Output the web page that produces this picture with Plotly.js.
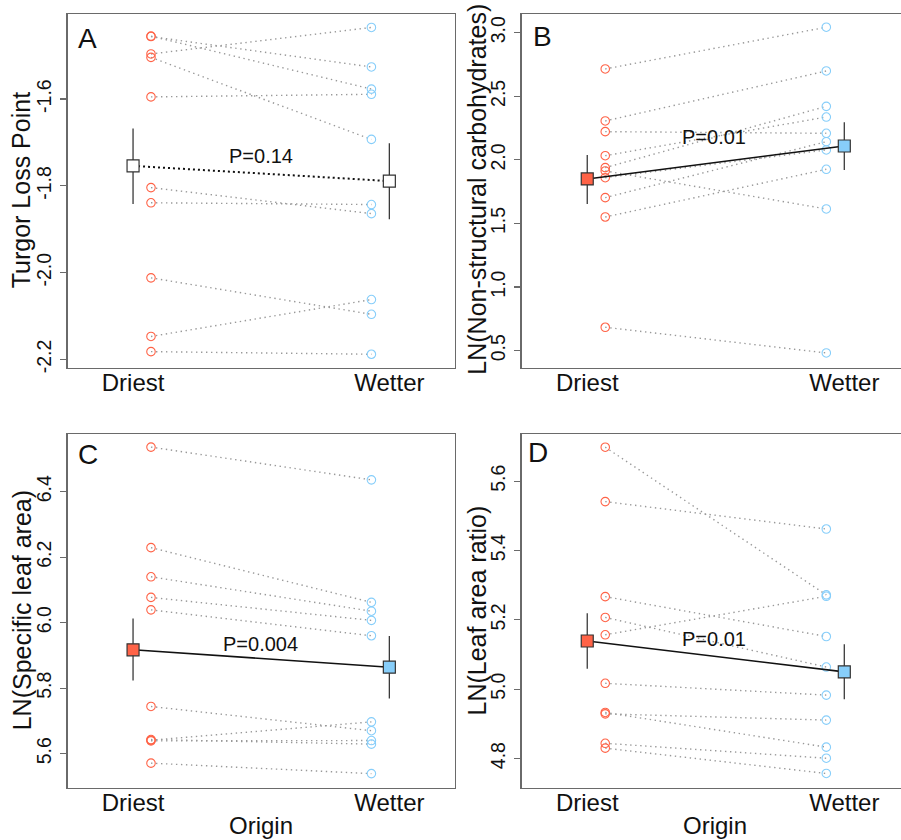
<!DOCTYPE html>
<html><head><meta charset="utf-8">
<script src="https://cdn.plot.ly/plotly-3.0.1.min.js"></script>
<style>html,body{margin:0;padding:0;background:#fff}#chart{width:901px;height:840px}</style>
</head><body><div id="chart"></div>
<script>
// ---------- data ----------
const categories = ['Driest', 'Wetter'];

// Panel A: Turgor Loss Point (driest[i] is paired with wetter[i])
const tlpDriest = [-1.456, -1.455, -1.496, -1.504, -1.595, -1.804, -1.839, -2.012, -2.147, -2.182];
const tlpWetter = [-1.526, -1.577, -1.435, -1.693, -1.589, -1.864, -1.843, -2.096, -2.062, -2.188];
const tlpMeans = [-1.754, -1.789];
const tlpUpper = [-1.668, -1.702];
const tlpLower = [-1.842, -1.877];
const tlpTicks = [-2.2, -2.0, -1.8, -1.6];
const tlpTickText = ['-2.2', '-2.0', '-1.8', '-1.6'];

// Panel B: LN(Non-structural carbohydrates)
const nscDriest = [2.715, 2.306, 2.222, 2.033, 1.939, 1.913, 1.860, 1.703, 1.551, 0.684];
const nscWetter = [3.043, 2.699, 2.209, 2.337, 2.421, 1.614, 2.078, 2.143, 1.926, 0.482];
const nscMeans = [1.850, 2.109];
const nscUpper = [2.039, 2.296];
const nscLower = [1.653, 1.921];
const nscTicks = [0.5, 1.0, 1.5, 2.0, 2.5, 3.0];
const nscTickText = ['0.5', '1.0', '1.5', '2.0', '2.5', '3.0'];

// Panel C: LN(Specific leaf area)
const slaDriest = [6.536, 6.229, 6.140, 6.077, 6.039, 5.744, 5.641, 5.639, 5.643, 5.571];
const slaWetter = [6.436, 6.062, 6.035, 6.007, 5.960, 5.670, 5.697, 5.640, 5.629, 5.539];
const slaMeans = [5.917, 5.864];
const slaUpper = [6.013, 5.959];
const slaLower = [5.823, 5.768];
const slaTicks = [5.6, 5.8, 6.0, 6.2, 6.4];
const slaTickText = ['5.6', '5.8', '6.0', '6.2', '6.4'];

// Panel D: LN(Leaf area ratio)
const larDriest = [5.698, 5.541, 5.267, 5.207, 5.157, 5.017, 4.929, 4.933, 4.844, 4.830];
const larWetter = [5.272, 5.462, 5.152, 5.064, 5.268, 4.983, 4.911, 4.833, 4.801, 4.757];
const larMeans = [5.139, 5.050];
const larUpper = [5.219, 5.130];
const larLower = [5.059, 4.971];
const larTicks = [4.8, 5.0, 5.2, 5.4, 5.6];
const larTickText = ['4.8', '5.0', '5.2', '5.4', '5.6'];

const pValues = ['P=0.14', 'P=0.01', 'P=0.004', 'P=0.01'];
const panelLetters = ['A', 'B', 'C', 'D'];
const yTitles = ['Turgor Loss Point', 'LN(Non-structural carbohydrates)', 'LN(Specific leaf area)', 'LN(Leaf area ratio)'];
const xTitle = 'Origin';

// ---------- drawing ----------
const RED = '#FF6347', BLUE = '#87CEFA';
const FONT = 'Liberation Sans, Arial, sans-serif';
const XD = 1.07, XW = 1.93;

function panel(dr, we, means, up, lo, ax, opts) {
  const xa = 'x' + ax, ya = 'y' + ax;
  const lx = [], ly = [];
  for (let i = 0; i < dr.length; i++) { lx.push(XD, XW, null); ly.push(dr[i], we[i], null); }
  return [
    {x: lx, y: ly, xaxis: xa, yaxis: ya, mode: 'lines', hoverinfo: 'skip',
     line: {color: '#999999', width: 1.4, dash: '1.4px,3.6px'}},
    {x: dr.map(() => XD), y: dr, xaxis: xa, yaxis: ya, mode: 'markers',
     marker: {symbol: 'circle-open', size: 8.5, color: RED, line: {width: 1.1}}},
    {x: we.map(() => XW), y: we, xaxis: xa, yaxis: ya, mode: 'markers',
     marker: {symbol: 'circle-open', size: 8.5, color: BLUE, line: {width: 1.1}}},
    {x: [1, 1, null, 2, 2], y: [lo[0], up[0], null, lo[1], up[1]], xaxis: xa, yaxis: ya,
     mode: 'lines', line: {color: '#3a3a3a', width: 1.3}},
    {x: [1, 2], y: means, xaxis: xa, yaxis: ya, mode: 'lines',
     line: {color: '#111', width: opts.dotted ? 2 : 1.6, dash: opts.dotted ? '2px,3px' : 'solid'}},
    {x: [1, 2], y: means, xaxis: xa, yaxis: ya, mode: 'markers',
     marker: {symbol: 'square', size: 12, color: opts.fill, line: {color: '#333', width: 1.2}}}
  ];
}

const data = [].concat(
  panel(tlpDriest, tlpWetter, tlpMeans, tlpUpper, tlpLower, '', {dotted: true, fill: ['#ffffff', '#ffffff']}),
  panel(nscDriest, nscWetter, nscMeans, nscUpper, nscLower, '2', {fill: [RED, BLUE]}),
  panel(slaDriest, slaWetter, slaMeans, slaUpper, slaLower, '3', {fill: [RED, BLUE]}),
  panel(larDriest, larWetter, larMeans, larUpper, larLower, '4', {fill: [RED, BLUE]})
);

const W = 901, H = 840;
const px = v => v / W, py = v => 1 - v / H;
const frame = '#6a6a6a';

function xAxis(l, r, range) {
  return {domain: [px(l), px(r)], range: range, tickvals: [1, 2], ticktext: categories,
    showgrid: false, zeroline: false, showline: true, mirror: true, linecolor: frame, linewidth: 1.3,
    ticks: '', ticklabelstandoff: -7,
    tickfont: {family: FONT, size: 24, color: '#111'}, fixedrange: true};
}
function yAxis(t, b, range, tv, tt, anchor) {
  return {domain: [py(b), py(t)], range: range, tickvals: tv, ticktext: tt, anchor: anchor,
    showgrid: false, zeroline: false, showline: true, mirror: true, linecolor: frame, linewidth: 1.3,
    ticks: 'outside', ticklen: 6, tickcolor: frame, tickwidth: 1.2, tickangle: -90,
    ticklabelstandoff: 2,
    tickfont: {family: FONT, size: 19.5, color: '#111'}, fixedrange: true};
}

const T1 = 14, B1 = 367.7, T2 = 434, B2 = 787.7;
const L1 = 67.7, R1 = 454.7, L2 = 521.7, R2 = 901;

const annotations = [];
function ann(text, x, y, size, angle) {
  annotations.push({text: text, xref: 'paper', yref: 'paper', x: px(x), y: py(y),
    xanchor: 'center', yanchor: 'middle', showarrow: false, textangle: angle || 0,
    font: {family: FONT, size: size, color: '#111'}});
}
const letterPos = [[87.3, 38.5], [542.3, 37], [88.3, 455], [538.3, 452.5]];
const pPos = [[261, 156], [714.3, 136.7], [260.5, 644], [714.3, 639.3]];
const yTitlePos = [[20.5, 190.8], [476.7, 189], [21.5, 610.8], [476.7, 610.8]];
for (let i = 0; i < 4; i++) {
  ann(panelLetters[i], letterPos[i][0], letterPos[i][1], 28);
  ann(pValues[i], pPos[i][0], pPos[i][1], 20);
  ann(yTitles[i], yTitlePos[i][0], yTitlePos[i][1], 25, -90);
}
ann(xTitle, 261, 825, 24);
ann(xTitle, 715, 825, 24);

const layout = {
  width: W, height: H, margin: {l: 0, r: 0, t: 0, b: 0},
  paper_bgcolor: '#fff', plot_bgcolor: '#fff', showlegend: false,
  xaxis: Object.assign(xAxis(L1, R1, [0.745, 2.255]), {anchor: 'y'}),
  yaxis: yAxis(T1, B1, [-2.219, -1.404], tlpTicks, tlpTickText, 'x'),
  xaxis2: Object.assign(xAxis(L2, R2, [0.745, 2.2206]), {anchor: 'y2'}),
  yaxis2: yAxis(T1, B1, [0.366, 3.147], nscTicks, nscTickText, 'x2'),
  xaxis3: Object.assign(xAxis(L1, R1, [0.745, 2.255]), {anchor: 'y3'}),
  yaxis3: yAxis(T2, B2, [5.496, 6.576], slaTicks, slaTickText, 'x3'),
  xaxis4: Object.assign(xAxis(L2, R2, [0.745, 2.2206]), {anchor: 'y4'}),
  yaxis4: yAxis(T2, B2, [4.716, 5.736], larTicks, larTickText, 'x4'),
  annotations: annotations
};

Plotly.newPlot('chart', data, layout, {displayModeBar: false, staticPlot: true});
</script>
</body></html>
